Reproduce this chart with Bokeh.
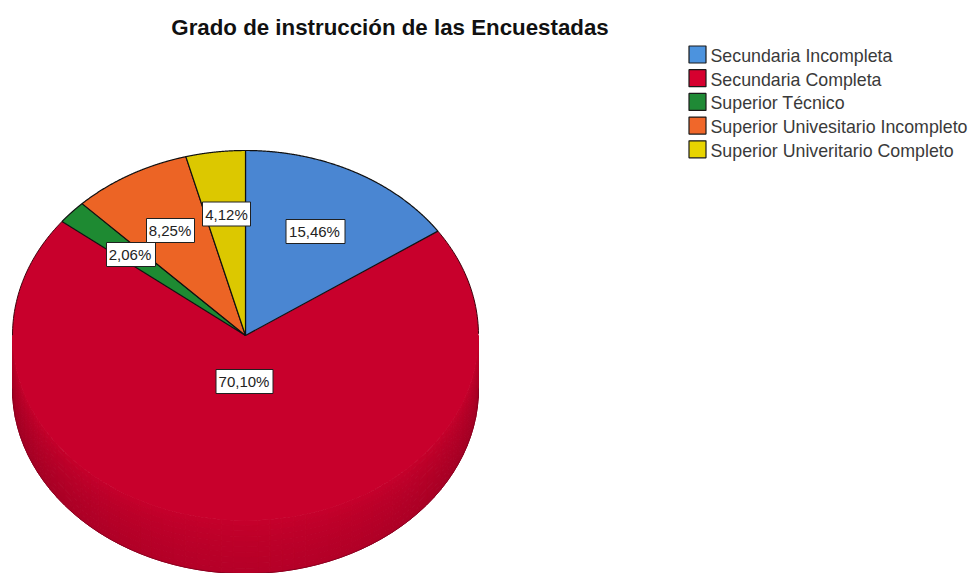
import numpy as np
from bokeh.embed import file_html
from bokeh.models import Range1d
from bokeh.plotting import figure
from bokeh.resources import INLINE
from bokeh.core.properties import value

title = "Grado de instrucción de las Encuestadas"
categories = ["Secundaria Incompleta", "Secundaria Completa", "Superior Técnico",
              "Superior Univesitario Incompleto", "Superior Univeritario Completo"]
percentages = [15.46, 70.10, 2.06, 8.25, 4.12]
slice_labels = ["15,46%", "70,10%", "2,06%", "8,25%", "4,12%"]
pie_colors = ["#4A86D2", "#C8002C", "#1E8A32", "#EC6425", "#DCC800"]
legend_colors = ["#4C93DE", "#D6002F", "#1F8A36", "#F0672A", "#E8D400"]

label_x = [315, 244, 130.5, 170, 226]
label_y = [231, 381, 254, 230, 213.5]
label_w = [59, 57, 49, 48, 48]
label_h = 24
text_x = [314, 243.5, 129.5, 169.5, 226]

FONT = "Liberation Sans"
W, H = 971, 573
CX, CY, RX, RY, DEPTH = 245, 335, 233, 185, 53

p = figure(width=W, height=H, output_backend="svg", toolbar_location=None,
           x_range=Range1d(0, W), y_range=Range1d(H, 0),
           min_border=0, outline_line_color=None, background_fill_color="white",
           border_fill_color="white")
p.axis.visible = False
p.grid.visible = False


def rim(t, shift=0.0):
    return CX + RX * np.sin(t), CY + shift - RY * np.cos(t)


# extruded side: soft shading, strips along the rim and layers down the depth
edges = np.radians(np.linspace(90, 270, 61))
layers = np.linspace(0, 1, 11)
xs, ys, cols = [], [], []
for a, b in zip(edges[:-1], edges[1:]):
    mid = (a + b) / 2
    for v0, v1 in zip(layers[:-1], layers[1:]):
        xa, ya = rim(np.array([a, b]), v0 * DEPTH)
        xb, yb = rim(np.array([b, a]), v1 * DEPTH)
        xs.append(list(xa) + list(xb))
        ys.append(list(ya) + list(yb))
        v = ((v0 + v1) / 2) ** 0.6
        shade = 1 - v * (0.09 + 0.10 * np.sin(mid) ** 2)
        cols.append("#%02X%02X%02X" % (int(200 * shade), 0, int(44 * shade)))
p.patches(xs, ys, fill_color=cols, line_color=cols, line_width=1)

# outer silhouette of the side
tt = np.radians(np.linspace(90, 270, 181))
sx, sy = rim(tt, DEPTH)
p.line(list(sx), list(sy), line_color="#8A0020", line_width=1)

# top face slices
cum = np.cumsum([0] + percentages) / sum(percentages) * 2 * np.pi
order = [1, 0, 2, 3, 4]
for i in order:
    t = np.linspace(cum[i], cum[i + 1], 240)
    x, y = rim(t)
    px = [CX] + list(x)
    py = [CY] + list(y)
    if i == 1:
        p.patch(px, py, fill_color=pie_colors[i], line_color=None)
        for mask in (t <= np.pi / 2, t >= 3 * np.pi / 2):
            p.line(list(x[mask]), list(y[mask]), line_color="#40000C", line_width=1)
    else:
        p.patch(px, py, fill_color=pie_colors[i], line_color="#101010", line_width=1.2)

# value labels
p.rect(label_x, label_y, width=label_w, height=label_h, fill_color="white",
       line_color="#202020", line_width=1)
p.text(text_x, label_y, text=slice_labels, text_font=value(FONT), text_font_size="15px",
       text_color="#222222", text_align="center", text_baseline="middle")

# title
p.text([389.5], [27], text=[title], text_font=value(FONT), text_font_size="22.3px",
       text_font_style="bold", text_color="#111111", text_align="center", text_baseline="middle")

# legend
row_y = [54 + 23.7 * i for i in range(len(categories))]
p.rect([697] * 5, row_y, width=17, height=17, fill_color=legend_colors,
       line_color="#1A1A1A", line_width=1.2)
p.text([710] * 5, [y + 1.5 for y in row_y], text=categories, text_font=value(FONT),
       text_font_size="17.8px", text_color="#3A3A3A", text_align="left", text_baseline="middle")

open("out.html", "w").write(file_html(p, INLINE))
